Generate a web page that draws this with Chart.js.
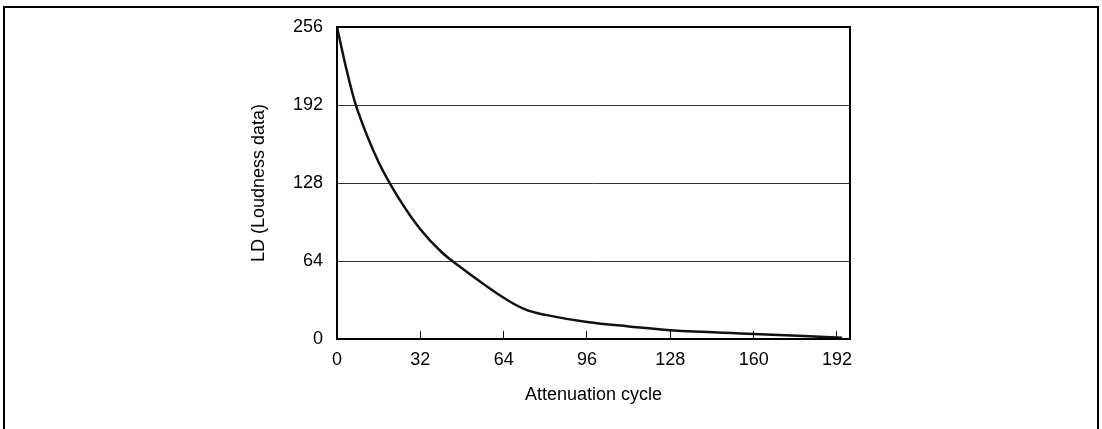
<!DOCTYPE html>
<html>
<head>
<meta charset="utf-8">
<script src="https://cdn.jsdelivr.net/npm/chart.js@4.4.1/dist/chart.umd.min.js"></script>
<style>
    html, body { margin: 0; padding: 0; background: #fff; overflow: hidden; }
    #frame {
        position: absolute; left: 3px; top: 6px; width: 1092px; height: 440px;
        border: 2px solid #000;
    }
    #wrap { position: absolute; left: 0; top: 0; width: 1102px; height: 429px; }
</style>
</head>
<body>
<div id="frame"></div>
<div id="wrap"><canvas id="decayChart"></canvas></div>
<script>
// ===== DATOS =====
const cycle = [0, 4, 8, 16, 24, 32, 40, 48, 56, 64, 72, 80, 96, 112, 128, 160, 194];
const loudness = [256, 218, 187, 145, 114.5, 90, 71.6, 58, 45.5, 33.8, 24.5, 19.8, 14, 10.3, 7.2, 4.2, 1];
const xTicks = [0, 32, 64, 96, 128, 160, 192];
const yTicks = [0, 64, 128, 192, 256];

Chart.defaults.font.family = "'Liberation Sans', Arial, sans-serif";
Chart.defaults.color = '#000';

// marco del área del gráfico
const plotFrame = {
    id: 'plotFrame',
    afterDatasetsDraw(chart) {
        const { ctx, chartArea: a } = chart;
        ctx.save();
        ctx.strokeStyle = '#000';
        ctx.lineWidth = 2;
        ctx.strokeRect(a.left, a.top, a.right - a.left, a.bottom - a.top);
        ctx.restore();
    }
};

new Chart(document.getElementById('decayChart'), {
    type: 'line',
    data: {
        datasets: [{
            data: cycle.map((c, i) => ({ x: c, y: loudness[i] })),
            borderColor: '#111',
            borderWidth: 2.5,
            pointRadius: 0,
            fill: false,
            tension: 0.4
        }]
    },
    options: {
        responsive: true,
        maintainAspectRatio: false,
        animation: false,
        layout: { padding: { left: 248, top: 27, right: 252, bottom: 23 } },
        plugins: { legend: { display: false }, tooltip: { enabled: false } },
        scales: {
            x: {
                type: 'linear',
                min: 0,
                max: 197,
                afterBuildTicks: s => { s.ticks = xTicks.map(v => ({ value: v })); },
                afterFit: s => { s.height = 67; },
                border: { display: false },
                grid: {
                    drawOnChartArea: false,
                    drawTicks: true,
                    tickLength: -8,
                    tickColor: '#000',
                    lineWidth: 1
                },
                ticks: { padding: 18, font: { size: 18 }, maxRotation: 0 },
                title: {
                    display: true,
                    text: 'Attenuation cycle',
                    font: { size: 18 },
                    padding: 0
                }
            },
            y: {
                min: 0,
                max: 256,
                afterBuildTicks: s => { s.ticks = yTicks.map(v => ({ value: v })); },
                afterFit: s => { s.width = 89; },
                border: { display: false },
                grid: {
                    drawTicks: false,
                    color: '#333',
                    lineWidth: 1
                },
                ticks: { padding: 14, font: { size: 18 } },
                title: {
                    display: true,
                    text: 'LD (Loudness data)',
                    font: { size: 18 },
                    padding: 0
                }
            }
        }
    },
    plugins: [plotFrame]
});
</script>
</body>
</html>
